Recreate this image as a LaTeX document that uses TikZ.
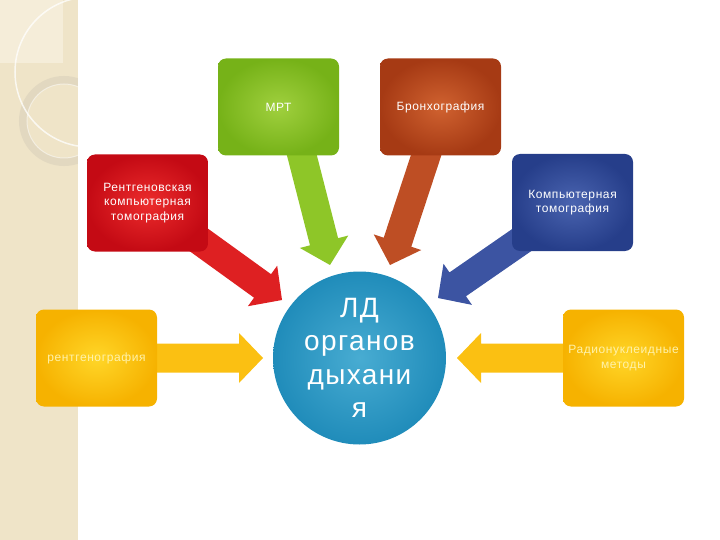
\documentclass[tikz,border=0pt]{standalone}
\usepackage{fontspec}
\setmainfont{Liberation Sans}[LetterSpace=5]
\usetikzlibrary{backgrounds, calc, positioning, shapes}

\definecolor{stripe}{RGB}{239,228,200}
\definecolor{stripelight}{RGB}{245,237,217}
\definecolor{ringcol}{RGB}{226,216,192}
\definecolor{mrtin}{RGB}{160,208,62}
\definecolor{mrtout}{RGB}{118,178,24}
\definecolor{mrtarrow}{RGB}{142,198,40}
\definecolor{brin}{RGB}{208,98,48}
\definecolor{brout}{RGB}{166,58,20}
\definecolor{brarrow}{RGB}{190,78,36}
\definecolor{rktin}{RGB}{236,44,44}
\definecolor{rktout}{RGB}{196,10,20}
\definecolor{rktarrow}{RGB}{222,32,34}
\definecolor{ktin}{RGB}{74,100,176}
\definecolor{ktout}{RGB}{38,62,138}
\definecolor{ktarrow}{RGB}{60,84,162}
\definecolor{ylin}{RGB}{255,214,40}
\definecolor{ylout}{RGB}{246,178,0}
\definecolor{ylarrow}{RGB}{251,192,18}
\definecolor{yltext}{RGB}{255,242,170}
\definecolor{hubin}{RGB}{72,172,210}
\definecolor{hubout}{RGB}{32,140,186}

\newcommand{\blockarrow}[3]{%
  \coordinate (ba base) at ($(#3)!24pt!(#2)$);
  \fill[#1] ($(#2)!14.5pt!90:(#3)$) -- ($(ba base)!14.5pt!90:(#3)$) -- ($(ba base)!25pt!90:(#3)$)
    -- (#3) -- ($(ba base)!25pt!-90:(#3)$) -- ($(ba base)!14.5pt!-90:(#3)$) -- ($(#2)!14.5pt!-90:(#3)$) -- cycle;}

\begin{document}
\begin{tikzpicture}[x=1pt, y=-1pt, font=\fontsize{12}{14.5}\selectfont]
\tikzset{every node/.style={inner sep=0mm, outer sep=0mm}}

\tikzstyle{method}=[rectangle, rounded corners=8pt, minimum width=121pt, minimum height=97pt, align=center, text=white]
\tikzstyle{mrt box}=[method, inner color=mrtin, outer color=mrtout]
\tikzstyle{br box}=[method, inner color=brin, outer color=brout]
\tikzstyle{rkt box}=[method, inner color=rktin, outer color=rktout]
\tikzstyle{kt box}=[method, inner color=ktin, outer color=ktout]
\tikzstyle{yl box}=[method, inner color=ylin, outer color=ylout, text=yltext]
\tikzstyle{hub}=[circle, minimum size=173pt, align=center, text=white, inner color=hubin, outer color=hubout, font=\fontsize{28}{33.5}\selectfont]

\useasboundingbox (0,0) rectangle (720,540);

\node[hub] (ld) at (359.5,358) {ЛД\\органов\\дыхани\\я};
\node[yl box, left=116pt of ld] (rg) {рентгенография};
\node[yl box, right=117pt of ld] (rn) {Радионуклеидные\\методы};
\node[mrt box] (mrt) at (278.5,107) {МРТ};
\node[br box, right=41pt of mrt] (br) {Бронхография};
\node[rkt box] (rkt) at (147.5,203) {Рентгеновская\\компьютерная\\томография};
\node[kt box] (kt) at (572.5,202.5) {Компьютерная\\томография};

\coordinate (mrt tail) at (299.5,146);  \coordinate (mrt tip) at (330,265);
\coordinate (br tail) at (429,146.5);   \coordinate (br tip) at (390,265);
\coordinate (rkt tail) at (192,235);    \coordinate (rkt tip) at (282,300);
\coordinate (kt tail) at (529,235);     \coordinate (kt tip) at (438,298);
\coordinate (rg tail) at ($(rg.east)+(-8,0)$);  \coordinate (rg tip) at ($(ld.west)+(-10,0)$);
\coordinate (rn tail) at ($(rn.west)+(8,0)$);   \coordinate (rn tip) at ($(ld.east)+(11,0)$);

\begin{scope}[on background layer]
    \fill[stripe] (0,0) rectangle (78,540);
    \begin{scope}
        \clip (0,0) rectangle (78,540);
        \fill[stripelight] (0,0) rectangle (63,63);
        \draw[ringcol, line width=8pt] (64,121) circle (41);
        \draw[white, opacity=.5, line width=1pt] (64,121) circle (37);
        \draw[white, opacity=.75, line width=1.5pt] (90,72) circle (75);
    \end{scope}
    \draw[white, line width=.8pt] (78,0) -- (78,540);
    \blockarrow{mrtarrow}{mrt tail}{mrt tip}
    \blockarrow{brarrow}{br tail}{br tip}
    \blockarrow{rktarrow}{rkt tail}{rkt tip}
    \blockarrow{ktarrow}{kt tail}{kt tip}
    \blockarrow{ylarrow}{rg tail}{rg tip}
    \blockarrow{ylarrow}{rn tail}{rn tip}
\end{scope}

\end{tikzpicture}
\end{document}
